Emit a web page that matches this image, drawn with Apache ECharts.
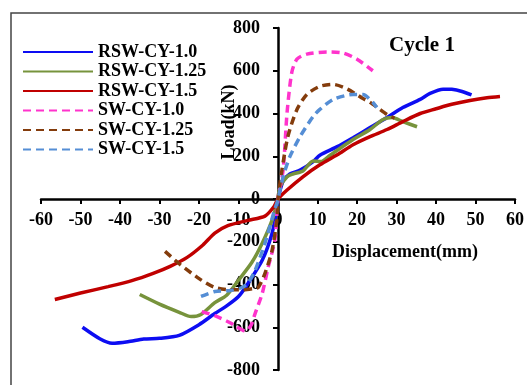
<!DOCTYPE html>
<html>
<head>
<meta charset="utf-8">
<script src="https://cdn.jsdelivr.net/npm/echarts@6/dist/echarts.min.js"></script>
<style>
  html, body { margin: 0; padding: 0; background: #fff; }
  #chart { width: 527px; height: 385px; }
</style>
</head>
<body>
<div id="chart"></div>
<script>
// hysteresis envelopes, [displacement mm, load kN]
let rswCy10 = [[-49.5,-600],[-45,-655],[-42,-675],[-38,-668],[-34,-655],[-30,-652],[-25,-638],[-20,-588],[-16,-536],[-13,-500],[-10,-456],[-7.6,-395],[-4,-287],[-1.5,-160],[-0.3,-47],[0,0],[1.3,84],[3,117],[5.6,135],[8.9,175],[10.6,205],[15,245],[19,287],[23.3,334],[27.6,381],[31.6,428],[36,466],[38.5,494],[41.8,514],[44,513],[46.6,503],[49,487]];
let rswCy125 = [[-35,-447],[-30,-492],[-25,-530],[-22,-550],[-19.5,-540],[-16,-485],[-13,-450],[-10,-380],[-6.6,-296],[-4,-207],[-1.5,-99],[0,0],[0.5,56],[2.3,104],[3.8,117],[6.3,131],[8.9,178],[10.8,175],[13.2,205],[19,278],[23.3,325],[26.6,372],[28.9,381],[31.6,362],[35.2,338]];
let rswCy15 = [[-56.5,-470],[-50,-440],[-43,-410],[-37,-382],[-31.6,-348],[-27.3,-315],[-23,-273],[-19,-215],[-16,-160],[-12.7,-125],[-7.6,-100],[-3.3,-80],[-1,-35],[0,0],[2.3,42],[6.3,104],[10.6,160],[15,207],[19,254],[23.3,292],[27.6,325],[31.6,362],[36,400],[40,422],[44,443],[48.6,461],[52.9,474],[56.2,480]];
let swCy10 = [[-19.3,-527],[-16,-546],[-12,-580],[-10.9,-593],[-8.2,-618],[-6.8,-590],[-5.8,-536],[-4,-442],[-2.5,-320],[-0.8,-193],[0,0],[1.3,136],[2.3,405],[3.5,593],[4.8,654],[7.3,678],[12.4,688],[16.5,683],[20,654],[24,600]];
let swCy125 = [[-28.6,-245],[-24.8,-306],[-19.7,-376],[-16,-414],[-12,-425],[-9,-425],[-6,-418],[-5,-414],[-3.3,-348],[-1.5,-240],[-0.3,-99],[0,0],[1,136],[2.5,292],[4.8,419],[7.3,489],[10.6,527],[14,536],[17.5,515],[21.5,470],[23.3,452],[25,430],[27.6,395],[29.5,378]];
let swCy15 = [[-19.5,-456],[-16,-433],[-12,-428],[-9.1,-414],[-7.5,-390],[-5.8,-334],[-3.3,-207],[-1,-60],[0,0],[1.3,104],[3,198],[5.6,292],[8.9,386],[10.6,419],[14,466],[19,489],[21.5,489],[24,452],[25,428]];

let seriesNames = ['RSW-CY-1.0', 'RSW-CY-1.25', 'RSW-CY-1.5', 'SW-CY-1.0', 'SW-CY-1.25', 'SW-CY-1.5'];
let seriesData = [rswCy10, rswCy125, rswCy15, swCy10, swCy125, swCy15];
let seriesColors = ['#0d0df2', '#77933c', '#c00000', '#ff33cc', '#843c0c', '#558ed5'];
let seriesDashed = [false, false, false, true, true, true];

let font = '"Liberation Serif", "Times New Roman", serif';

// plot box in px, axes are shifted onto the zero lines with offset
let gridLeft = 41, gridRight = 12, gridTop = 28, gridBottom = 15;
let plotW = 527 - gridLeft - gridRight;
let plotH = 385 - gridTop - gridBottom;

let myChart = echarts.init(document.getElementById('chart'));

let series = seriesNames.map(function (name, i) {
  return {
    name: name,
    type: 'line',
    data: seriesData[i],
    symbol: 'none',
    smooth: 0.25,
    lineStyle: {
      color: seriesColors[i],
      width: 3.5,
      type: seriesDashed[i] ? [8, 5] : 'solid'
    },
    itemStyle: { color: seriesColors[i] }
  };
});

myChart.setOption({
  animation: false,
  backgroundColor: '#fff',
  title: {
    text: 'Cycle 1',
    left: 389,
    top: 35,
    padding: 0,
    textStyle: { fontFamily: font, fontWeight: 'bold', fontSize: 21, color: '#000' }
  },
  legend: {
    orient: 'vertical',
    left: 17,
    top: 38,
    itemWidth: 70,
    itemHeight: 14,
    itemGap: 1.5,
    itemStyle: { opacity: 0 },
    textStyle: { fontFamily: font, fontWeight: 'bold', fontSize: 18, lineHeight: 18, color: '#000' },
    data: seriesNames
  },
  grid: {
    left: gridLeft, right: gridRight, top: gridTop, bottom: gridBottom,
    containLabel: false,
    outerBoundsMode: 'none'
  },
  xAxis: {
    type: 'value',
    min: -60,
    max: 60,
    interval: 10,
    position: 'bottom',
    offset: -plotH / 2,
    axisLine: { onZero: false, lineStyle: { color: '#000', width: 2.5 } },
    axisTick: { length: 5, lineStyle: { color: '#000', width: 2 } },
    axisLabel: { margin: 12, fontFamily: font, fontWeight: 'bold', fontSize: 18, color: '#000' },
    splitLine: { show: false }
  },
  yAxis: {
    type: 'value',
    min: -800,
    max: 800,
    interval: 200,
    position: 'left',
    offset: -plotW / 2,
    axisLine: { onZero: false, lineStyle: { color: '#000', width: 2.5 } },
    axisTick: { length: 5, lineStyle: { color: '#000', width: 2 } },
    axisLabel: { margin: 18, fontFamily: font, fontWeight: 'bold', fontSize: 18, color: '#000' },
    splitLine: { show: false }
  },
  graphic: [
    {
      type: 'rect',
      z: -1,
      shape: { x: 11, y: 13, width: 600, height: 400 },
      style: { fill: 'none', stroke: '#444', lineWidth: 1.5 }
    },
    {
      type: 'text',
      x: 229,
      y: 122,
      rotation: Math.PI / 2,
      style: {
        text: 'Load(kN)',
        font: 'bold 18px ' + font,
        fill: '#000',
        align: 'center',
        verticalAlign: 'middle',
        textAlign: 'center',
        textVerticalAlign: 'middle'
      }
    },
    {
      type: 'text',
      x: 405,
      y: 252,
      style: {
        text: 'Displacement(mm)',
        font: 'bold 18px ' + font,
        fill: '#000',
        align: 'center',
        verticalAlign: 'middle',
        textAlign: 'center',
        textVerticalAlign: 'middle'
      }
    }
  ],
  series: series
});
</script>
</body>
</html>
